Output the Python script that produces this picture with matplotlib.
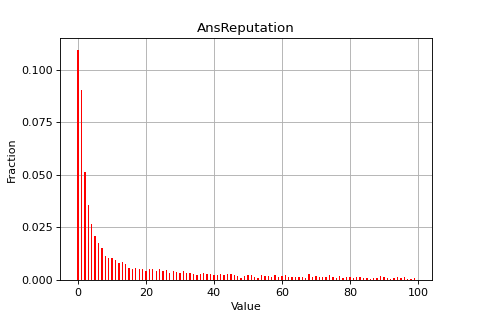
import matplotlib
matplotlib.use('Agg')
import matplotlib.pyplot as plt
from matplotlib.ticker import MultipleLocator, FormatStrFormatter

# values 0..99 and fraction of answers with that reputation
values = list(range(100))
fraction = [
    0.1095, 0.0905, 0.0514, 0.0359, 0.0267, 0.0210, 0.0178, 0.0152, 0.0114, 0.0105,
    0.0105, 0.0095, 0.0081, 0.0086, 0.0076, 0.0057, 0.0052, 0.0057, 0.0052, 0.0052,
    0.0043, 0.0052, 0.0052, 0.0043, 0.0052, 0.0043, 0.0048, 0.0033, 0.0043, 0.0038,
    0.0033, 0.0043, 0.0033, 0.0033, 0.0029, 0.0024, 0.0029, 0.0033, 0.0029, 0.0029,
    0.0024, 0.0024, 0.0029, 0.0024, 0.0029, 0.0029, 0.0024, 0.0019, 0.0010, 0.0019,
    0.0024, 0.0024, 0.0014, 0.0010, 0.0024, 0.0019, 0.0019, 0.0014, 0.0024, 0.0014,
    0.0019, 0.0024, 0.0014, 0.0014, 0.0014, 0.0014, 0.0014, 0.0010, 0.0029, 0.0014,
    0.0019, 0.0014, 0.0014, 0.0014, 0.0024, 0.0014, 0.0010, 0.0019, 0.0010, 0.0014,
    0.0014, 0.0010, 0.0014, 0.0014, 0.0010, 0.0010, 0.0005, 0.0010, 0.0010, 0.0019,
    0.0014, 0.0010, 0.0005, 0.0010, 0.0014, 0.0010, 0.0014, 0.0005, 0.0005, 0.0010,
]

fig, ax = plt.subplots(figsize=(6, 4), dpi=80)
fig.subplots_adjust(left=0.126, right=0.9, top=0.88, bottom=0.125)
ax.bar(values, fraction, width=0.4, color='red')
ax.set_title('AnsReputation')
ax.set_xlabel('Value')
ax.set_ylabel('Fraction')
ax.yaxis.set_major_locator(MultipleLocator(0.025))
ax.yaxis.set_major_formatter(FormatStrFormatter('%.3f'))
ax.grid(True)
ax.set_axisbelow(True)
fig.savefig('out.png')
